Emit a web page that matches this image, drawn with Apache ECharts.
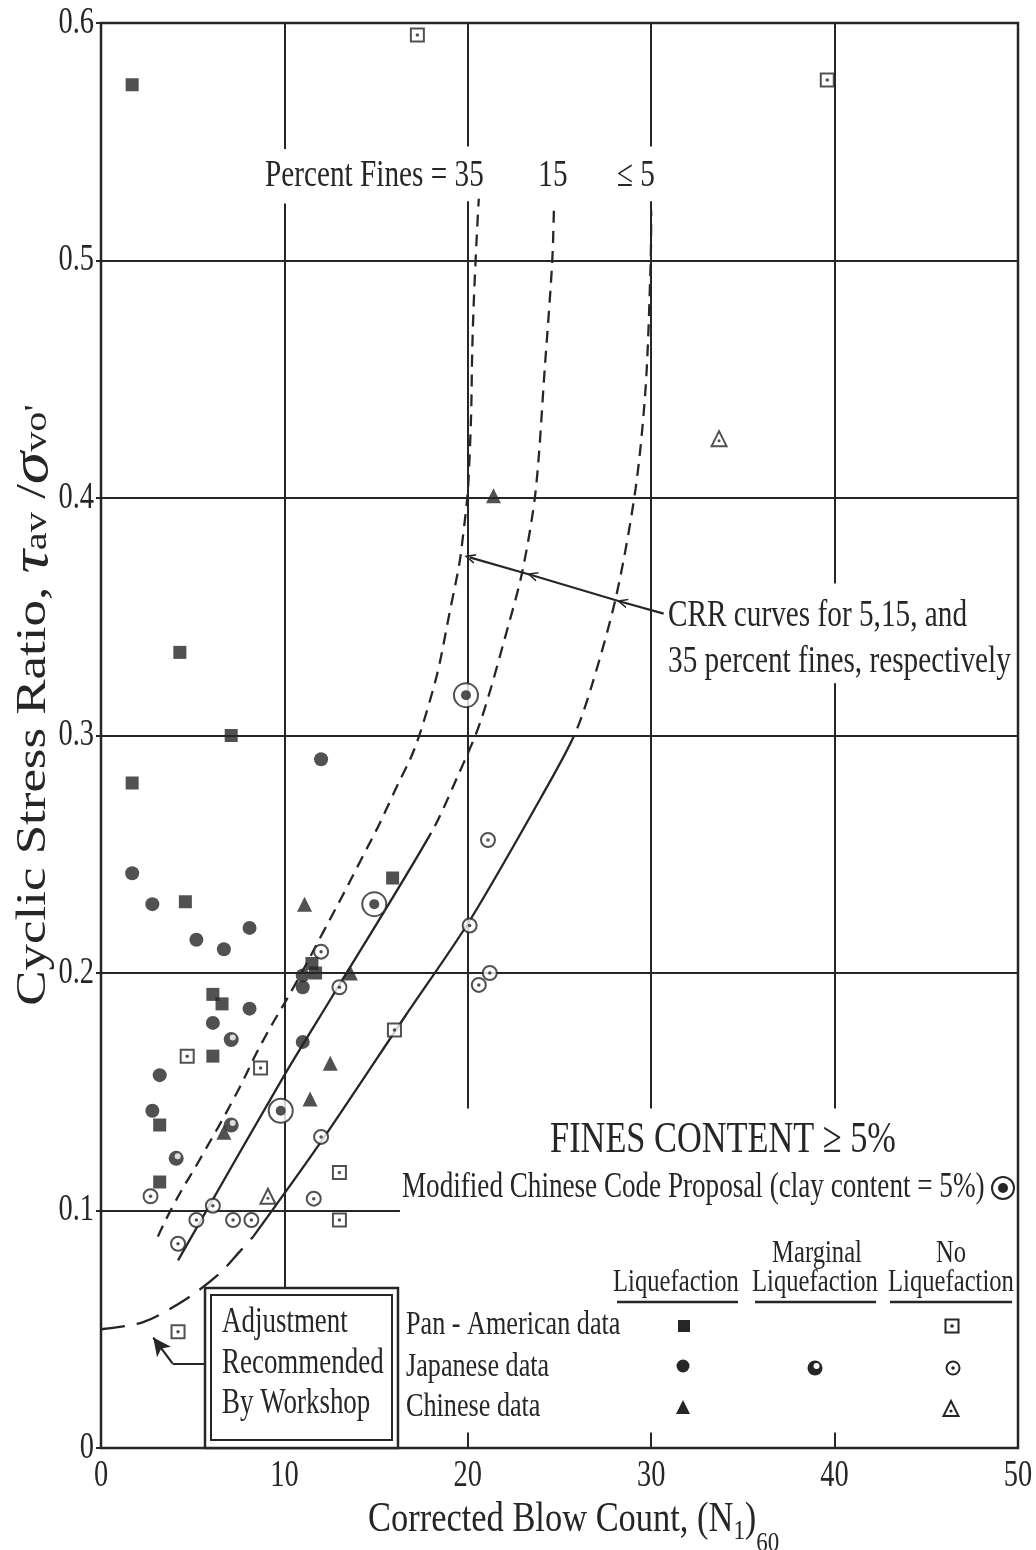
<!DOCTYPE html>
<html><head><meta charset="utf-8">
<script src="https://cdn.jsdelivr.net/npm/echarts/dist/echarts.min.js"></script>
<style>html,body{margin:0;padding:0;background:#fff;}#c{width:1036px;height:1550px;}</style>
</head><body><div id="c"></div>
<script>
// ---------- data ----------
const xTicks = [0, 10, 20, 30, 40, 50];
const yTicks = [0, 0.1, 0.2, 0.3, 0.4, 0.5, 0.6];

// Pan-American data
const panAmLiq = [[1.7,0.574],[4.3,0.335],[7.1,0.300],[1.7,0.280],[4.6,0.230],[15.9,0.240],[11.5,0.204],[11.7,0.200],[6.1,0.191],[6.6,0.187],[6.1,0.165],[3.2,0.136],[3.2,0.112]];
const panAmNo = [[17.25,0.595],[39.6,0.576],[4.7,0.165],[8.7,0.160],[16.0,0.176],[13.0,0.116],[13.0,0.096],[4.2,0.049]];
// Japanese data
const japLiq = [[1.7,0.242],[2.8,0.229],[5.2,0.214],[6.7,0.210],[8.1,0.219],[12.0,0.290],[11.0,0.199],[11.0,0.194],[8.1,0.185],[6.1,0.179],[3.2,0.157],[11.0,0.171],[2.8,0.142]];
const japMarg = [[7.1,0.172],[7.1,0.136],[4.1,0.122]];
const japNo = [[21.1,0.256],[12.0,0.209],[13.0,0.194],[20.1,0.220],[21.2,0.200],[20.6,0.195],[12.0,0.131],[2.7,0.106],[11.6,0.105],[6.1,0.102],[5.2,0.096],[7.2,0.096],[8.2,0.096],[4.2,0.086]];
// Chinese data
const chLiq = [[21.4,0.401],[11.1,0.229],[13.6,0.200],[12.5,0.162],[11.4,0.147],[6.7,0.133]];
const chNo = [[33.7,0.425],[9.1,0.106]];
// Modified Chinese Code Proposal
const modChinese = [[19.9,0.317],[14.9,0.229],[9.8,0.142]];

// CRR curves (<=5, 15 and 35 percent fines) and the workshop adjustment
const crr5 = [[8.3,0.089],[12.0,0.129],[16.6,0.182],[20.1,0.222],[24.0,0.274],[25.8,0.300],[26.8,0.322],[28.1,0.359],[29.15,0.404],[29.7,0.447],[29.97,0.499],[30.0,0.521]];
const crr15 = [[4.2,0.079],[10.0,0.157],[12.6,0.190],[18.0,0.259],[19.4,0.282],[20.7,0.306],[22.2,0.346],[23.0,0.370],[23.7,0.403],[24.2,0.455],[24.6,0.499],[24.7,0.523]];
const crr35 = [[3.1,0.089],[4.0,0.103],[5.5,0.123],[7.3,0.148],[8.8,0.171],[10.5,0.194],[12.1,0.217],[14.0,0.245],[15.8,0.273],[17.6,0.306],[19.2,0.359],[19.8,0.388],[20.1,0.418],[20.3,0.477],[20.6,0.526]];
const adjustment = [[0,0.050],[2.3,0.053],[4.5,0.062],[6.4,0.073],[7.6,0.083],[8.3,0.089]];
// CSR value where the solid part of a curve turns into dashes
const split5 = 0.300, split15 = 0.259;

// ---------- styling / helpers ----------
const INK = '#262626';
const DASH = [12, 8];
const FONT = '"Liberation Serif","Times New Roman",serif';
const mctx = document.createElement('canvas').getContext('2d');
function tw(s, size, italic) { mctx.font = (italic ? 'italic ' : '') + size + 'px ' + FONT; return mctx.measureText(s).width; }
function tstyle(s, size, align, italic) {
  return {text: s, font: (italic ? 'italic ' : '') + size + 'px ' + FONT, fill: INK,
          align: align, textAlign: align, verticalAlign: 'middle', textVerticalAlign: 'middle'};
}
function txt(s, x, y, size, align, sx) {
  return {type: 'text', x: x, y: y, scaleX: sx || 0.77, silent: true, z: 50, style: tstyle(s, size, align || 'left')};
}
function pieces(list, x, y, opt) {
  let total = 0;
  const ws = list.map(p => { const w = tw(p[0], p[1], p[2]); total += w; return w; });
  let cx = opt.center ? -total / 2 : 0;
  const children = list.map((p, i) => {
    const el = {type: 'text', x: cx, y: p[3] || 0, style: tstyle(p[0], p[1], 'left', p[2])};
    cx += ws[i];
    return el;
  });
  return {type: 'group', x: x, y: y, rotation: opt.rotation || 0, scaleX: opt.sx || 1, silent: true, z: 50, children: children};
}
function scat(data, symbol, size, itemStyle, z, extra) {
  return Object.assign({type: 'scatter', data: data, symbol: symbol, symbolSize: size, itemStyle: itemStyle,
    z: z || 5, silent: true, emphasis: {disabled: true}}, extra || {});
}
function curve(id, data, dash, width, smooth) {
  return {id: id, type: 'line', data: data, smooth: smooth || 0.3, symbol: 'none', silent: true, z: 3,
    lineStyle: {color: INK, width: width || 2.3, type: dash || 'solid'}, emphasis: {disabled: true}};
}
const seg = (a, b) => [{coord: a}, {coord: b}];

// gridline segments (broken around the annotations, like the original)
const gridSegs = [
  seg([10,0.6],[10,0.547]), seg([10,0.524],[10,0.0676]),
  seg([20,0.6],[20,0.548]), seg([20,0.525],[20,0.143]), seg([20,0],[20,0.0065]),
  seg([30,0.6],[30,0.548]), seg([30,0.525],[30,0.143]), seg([30,0],[30,0.0065]),
  seg([40,0.6],[40,0.364]), seg([40,0.322],[40,0.143]), seg([40,0],[40,0.0065]),
  seg([0,0.5],[50,0.5]), seg([0,0.4],[50,0.4]), seg([0,0.3],[50,0.3]), seg([0,0.2],[50,0.2]), seg([0,0.1],[16.3,0.1])
];
const VHEAD = 'path://M5,0L10,11L8.3,11L5,3.8L1.7,11L0,11Z';
const arrowSegs = [
  [{coord:[30.68,0.3513], symbol:'none'}, {coord:[28.4,0.3562], symbol:VHEAD, symbolSize:[10,11]}],
  [{coord:[28.4,0.3562], symbol:'none'}, {coord:[23.5,0.3675], symbol:VHEAD, symbolSize:[10,11]}],
  [{coord:[23.5,0.3675], symbol:'none'}, {coord:[20.1,0.375], symbol:VHEAD, symbolSize:[10,11]}],
  [{coord:[5.7,0.0356], symbol:'none'}, {coord:[3.9,0.0356], symbol:'none'}],
  [{coord:[3.9,0.0356], symbol:'none'}, {coord:[2.85,0.0465], symbol:'arrow', symbolSize:[13,18]}]
];

const openStyle = {color: '#fff', borderColor: INK, borderWidth: 2};
const option = {
  animation: false,
  backgroundColor: '#fff',
  grid: {left: 101, right: 18, top: 23, bottom: 102, show: true, borderColor: INK, borderWidth: 2.5},
  xAxis: {type: 'value', min: 0, max: 50, interval: 10, axisLine: {show: false}, axisTick: {show: false},
          axisLabel: {show: false}, splitLine: {show: false}},
  yAxis: {type: 'value', min: 0, max: 0.6, interval: 0.1, axisLine: {show: false},
          axisTick: {show: true, length: 5, lineStyle: {color: INK, width: 2}},
          axisLabel: {show: false}, splitLine: {show: false}},
  series: [
    {type: 'line', data: [], z: 1, silent: true,
     markLine: {silent: true, symbol: ['none','none'], label: {show: false}, animation: false,
                lineStyle: {color: INK, width: 2, type: 'solid'}, emphasis: {disabled: true}, data: gridSegs}},
    {type: 'line', data: [], z: 3, silent: true,
     markLine: {silent: true, label: {show: false}, animation: false,
                lineStyle: {color: INK, width: 2.2, type: 'solid'}, itemStyle: {color: INK},
                emphasis: {disabled: true}, data: arrowSegs}},
    curve('crr35', crr35, DASH, 2.3, 0.5),
    curve('crr15', crr15, 'solid'),
    curve('crr5', crr5, 'solid'),
    curve('adj', adjustment, [24, 12], 2.3),
    scat(panAmLiq, 'rect', 13, {color: INK}),
    scat(panAmNo, 'rect', 13, openStyle),
    scat(panAmNo, 'circle', 3.5, {color: INK}, 6),
    scat(japLiq, 'circle', 14, {color: INK}),
    scat(japMarg, 'circle', 15, {color: INK}),
    scat(japMarg, 'circle', 6, {color: '#fff'}, 6, {symbolOffset: [1.5, -2]}),
    scat(japNo, 'circle', 14, openStyle),
    scat(japNo, 'circle', 3.5, {color: INK}, 6),
    scat(chLiq, 'triangle', 15, {color: INK}),
    scat(chNo, 'triangle', 15, openStyle),
    scat(chNo, 'circle', 3, {color: INK}, 6, {symbolOffset: [0, 2]}),
    scat(modChinese, 'circle', 24, {color: '#fff', borderColor: INK, borderWidth: 2}),
    scat(modChinese, 'circle', 10, {color: INK}, 6)
  ]
};

const chart = echarts.init(document.getElementById('c'));
chart.setOption(option);

// solid-then-dashed stroke: the solid stretch is as long (in pixels) as the curve up to the split value
function solidThenDashed(data, splitY) {
  let len = 0;
  for (let i = 1; i < data.length && data[i - 1][1] < splitY; i++) {
    const a = chart.convertToPixel({gridIndex: 0}, data[i - 1]);
    const b = chart.convertToPixel({gridIndex: 0}, data[i]);
    len += Math.hypot(b[0] - a[0], b[1] - a[1]);
  }
  const arr = [len, DASH[1]];
  for (let k = 0; k < 80; k++) arr.push(DASH[0], DASH[1]);
  return arr;
}

// ---------- annotations ----------
const g = [];
// tick labels placed through the axis scales
yTicks.forEach(v => {
  const p = chart.convertToPixel({gridIndex: 0}, [0, v]);
  g.push(txt(String(v), p[0] - 7, p[1], 37, 'right', 0.77));
});
xTicks.forEach(v => {
  const p = chart.convertToPixel({gridIndex: 0}, [v, 0]);
  g.push(txt(String(v), p[0], p[1] + 28, 37, 'center', 0.77));
});
// axis titles
g.push(pieces([['Corrected Blow Count, (N', 42, false, 0], ['1', 28, false, 12], [')', 42, false, 0], ['60', 28, false, 24]],
              368, 1520, {sx: 0.82}));
g.push(pieces([['Cyclic Stress Ratio, ', 42, false, 0], ['τ', 52, true, -1], ['av', 32, false, 4], [' /', 42, false, 0],
               ['σ', 52, true, -1], ['vo\'', 32, false, 4]],
              34, 705, {center: true, rotation: Math.PI / 2, sx: 1.26}));
// curve labels
g.push(txt('Percent Fines = 35', 265, 176, 38, 'left'));
g.push(txt('15', 553, 176, 38, 'center'));
g.push(txt('≤ 5', 617, 176, 38, 'left'));
g.push(txt('CRR curves for 5,15, and', 668, 616, 38, 'left'));
g.push(txt('35 percent fines, respectively', 668, 662, 38, 'left'));
// legend block
g.push(txt('FINES CONTENT ≥ 5%', 723, 1140, 44, 'center', 0.78));
g.push(txt('Modified Chinese Code Proposal (clay content = 5%)', 402, 1188, 35, 'left', 0.775));
g.push(txt('Marginal', 817, 1254, 32, 'center'));
g.push(txt('No', 951, 1254, 32, 'center'));
g.push(txt('Liquefaction', 676, 1283, 32, 'center'));
g.push(txt('Liquefaction', 815, 1283, 32, 'center'));
g.push(txt('Liquefaction', 951, 1283, 32, 'center'));
[[617,738],[755,876],[890,1012]].forEach(u => g.push({type:'line', silent:true, z:50,
  shape:{x1:u[0], y1:1302, x2:u[1], y2:1302}, style:{stroke:INK, lineWidth:2.5}}));
g.push(txt('Pan - American data', 406, 1325, 34, 'left'));
g.push(txt('Japanese data', 406, 1367, 34, 'left'));
g.push(txt('Chinese data', 406, 1407, 34, 'left'));
// legend symbols
const sym = [];
sym.push({type:'circle', shape:{cx:1003, cy:1188, r:11}, style:{fill:'#fff', stroke:INK, lineWidth:2}});
sym.push({type:'circle', shape:{cx:1003, cy:1188, r:5}, style:{fill:INK}});
sym.push({type:'rect', shape:{x:678, y:1320, width:12, height:12}, style:{fill:INK}});
sym.push({type:'rect', shape:{x:945.5, y:1319.5, width:13, height:13}, style:{fill:'#fff', stroke:INK, lineWidth:2}});
sym.push({type:'circle', shape:{cx:952, cy:1326, r:1.8}, style:{fill:INK}});
sym.push({type:'circle', shape:{cx:683, cy:1366, r:6.5}, style:{fill:INK}});
sym.push({type:'circle', shape:{cx:815, cy:1368, r:7.5}, style:{fill:INK}});
sym.push({type:'circle', shape:{cx:816.5, cy:1366, r:3}, style:{fill:'#fff'}});
sym.push({type:'circle', shape:{cx:953, cy:1368, r:6.5}, style:{fill:'#fff', stroke:INK, lineWidth:2}});
sym.push({type:'circle', shape:{cx:953, cy:1368, r:1.8}, style:{fill:INK}});
sym.push({type:'polygon', shape:{points:[[683,1400],[690,1414],[676,1414]]}, style:{fill:INK}});
sym.push({type:'polygon', shape:{points:[[951,1401],[958.5,1416],[943.5,1416]]}, style:{fill:'#fff', stroke:INK, lineWidth:2}});
sym.push({type:'circle', shape:{cx:951, cy:1411, r:1.6}, style:{fill:INK}});
sym.forEach(s => { s.silent = true; s.z = 50; g.push(s); });
// "Adjustment Recommended By Workshop" box
g.push({type:'rect', silent:true, z:45, shape:{x:205, y:1288, width:193, height:160}, style:{fill:'#fff', stroke:INK, lineWidth:2.5}});
g.push({type:'rect', silent:true, z:46, shape:{x:211, y:1295, width:181, height:145}, style:{fill:'none', stroke:INK, lineWidth:2}});
g.push(txt('Adjustment', 222, 1323, 35, 'left'));
g.push(txt('Recommended', 222, 1364, 35, 'left'));
g.push(txt('By Workshop', 222, 1404, 35, 'left'));

chart.setOption({
  series: [
    {id: 'crr15', lineStyle: {type: solidThenDashed(crr15, split15)}},
    {id: 'crr5', lineStyle: {type: solidThenDashed(crr5, split5)}}
  ],
  graphic: {elements: g}
});
</script>
</body></html>
